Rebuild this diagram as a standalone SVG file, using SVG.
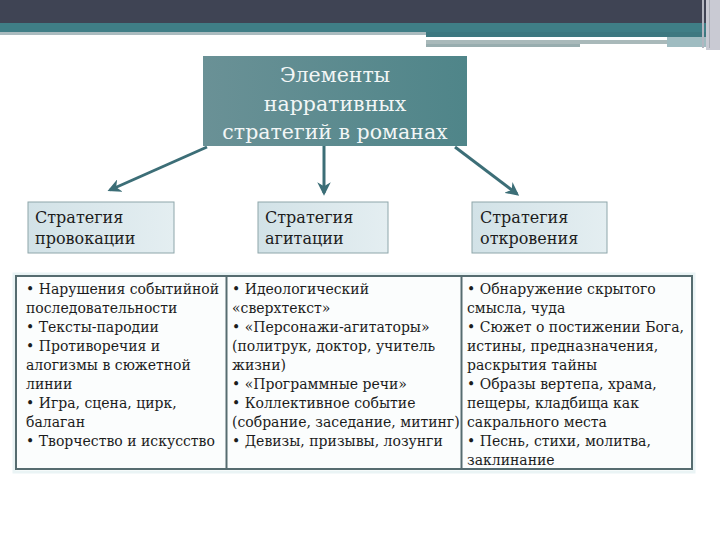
<svg xmlns="http://www.w3.org/2000/svg" width="720" height="540" viewBox="0 0 720 540">
  <defs>
    <linearGradient id="gMain" x1="0" y1="0" x2="1" y2="0">
      <stop offset="0" stop-color="#6a9196"/>
      <stop offset="1" stop-color="#4f8589"/>
    </linearGradient>
    <linearGradient id="gSub" x1="0" y1="0" x2="1" y2="0">
      <stop offset="0" stop-color="#d2e2e7"/>
      <stop offset="1" stop-color="#e4eef1"/>
    </linearGradient>
    <marker id="ah" viewBox="0 0 10 10" refX="8" refY="5" markerWidth="4.5" markerHeight="4.5" orient="auto" markerUnits="strokeWidth">
      <path d="M0,0 L10,5 L0,10 L3,5 Z" fill="#3c6e77"/>
    </marker>
    <style>
      .title { font-family: "DejaVu Serif", "Liberation Serif", serif; font-size: 20.5px; fill: #f2f6f6; text-anchor: middle; }
      .sub { font-family: "DejaVu Serif", "Liberation Serif", serif; font-size: 16px; fill: #1c1c1c; }
      .item { font-family: "DejaVu Serif", "Liberation Serif", serif; font-size: 14px; fill: #1c1c1c; }
      .conn { stroke: #3c6e77; stroke-width: 3; fill: none; marker-end: url(#ah); }
      .subbox { fill: url(#gSub); stroke: #8ea6aa; stroke-width: 1; }
    </style>
  </defs>

  <!-- header bands -->
  <g id="header">
    <rect x="0" y="0" width="720" height="24" fill="#3f4454"/>
    <rect x="0" y="23" width="706" height="9" fill="#3f7e86"/>
    <rect x="0" y="32" width="426" height="3" fill="#aabbbf"/>
    <rect x="426" y="32" width="280" height="5" fill="#3d7880"/>
    <rect x="426" y="40" width="241" height="4" fill="#a9b9ba"/>
    <rect x="426" y="44" width="154" height="3" fill="#98adaf"/>
    <rect x="667" y="37" width="39" height="10" fill="#9fbcc1"/>
    <rect x="706" y="0" width="14" height="50" fill="#c9cad3"/>
    <rect x="702" y="0" width="2" height="48" fill="#b3b6c0"/>
    <rect x="709" y="0" width="1" height="48" fill="#a9adb6"/>
  </g>

  <g id="connectors">
    <line class="conn" x1="207" y1="147" x2="110" y2="190"/>
    <line class="conn" x1="324" y1="146" x2="324" y2="193"/>
    <line class="conn" x1="455" y1="147" x2="517" y2="194"/>
  </g>

  <g id="main">
    <rect x="203" y="56" width="264" height="90" fill="url(#gMain)"/>
    <text class="title" x="335" y="82">Элементы</text>
    <text class="title" x="335" y="111">нарративных</text>
    <text class="title" x="335" y="139">стратегий в романах</text>
  </g>

  <g id="provocation">
    <rect class="subbox" x="28" y="202" width="146" height="51"/>
    <text class="sub" x="35" y="223">Стратегия</text>
    <text class="sub" x="35" y="244">провокации</text>
  </g>

  <g id="agitation">
    <rect class="subbox" x="258" y="202" width="130" height="51"/>
    <text class="sub" x="265" y="223">Стратегия</text>
    <text class="sub" x="265" y="244">агитации</text>
  </g>

  <g id="revelation">
    <rect class="subbox" x="472" y="202" width="135" height="51"/>
    <text class="sub" x="480" y="223">Стратегия</text>
    <text class="sub" x="480" y="244">откровения</text>
  </g>

  <g id="table">
    <rect x="14" y="274" width="680" height="198" fill="none" stroke="#eaf4f5" stroke-width="3"/>
    <rect x="16" y="276" width="676" height="193" fill="#fbfdfd" stroke="#566c70" stroke-width="2"/>
    <line x1="226.5" y1="276" x2="226.5" y2="469" stroke="#566c70" stroke-width="2"/>
    <line x1="461.5" y1="276" x2="461.5" y2="469" stroke="#566c70" stroke-width="2"/>
  </g>

  <g id="col-provocation">
    <text class="item" x="26" y="294">• Нарушения событийной</text>
    <text class="item" x="26" y="313">последовательности</text>
    <text class="item" x="26" y="332">• Тексты-пародии</text>
    <text class="item" x="26" y="351">• Противоречия и</text>
    <text class="item" x="26" y="370">алогизмы в сюжетной</text>
    <text class="item" x="26" y="389">линии</text>
    <text class="item" x="26" y="408">• Игра, сцена, цирк,</text>
    <text class="item" x="26" y="427">балаган</text>
    <text class="item" x="26" y="446">• Творчество и искусство</text>
  </g>

  <g id="col-agitation">
    <text class="item" x="232" y="294">• Идеологический</text>
    <text class="item" x="232" y="313">«сверхтекст»</text>
    <text class="item" x="232" y="332">• «Персонажи-агитаторы»</text>
    <text class="item" x="232" y="351">(политрук, доктор, учитель</text>
    <text class="item" x="232" y="370">жизни)</text>
    <text class="item" x="232" y="389">• «Программные речи»</text>
    <text class="item" x="232" y="408">• Коллективное событие</text>
    <text class="item" x="232" y="427">(собрание, заседание, митинг)</text>
    <text class="item" x="232" y="446">• Девизы, призывы, лозунги</text>
  </g>

  <g id="col-revelation">
    <text class="item" x="467" y="294">• Обнаружение скрытого</text>
    <text class="item" x="467" y="313">смысла, чуда</text>
    <text class="item" x="467" y="332">• Сюжет о постижении Бога,</text>
    <text class="item" x="467" y="351">истины, предназначения,</text>
    <text class="item" x="467" y="370">раскрытия тайны</text>
    <text class="item" x="467" y="389">• Образы вертепа, храма,</text>
    <text class="item" x="467" y="408">пещеры, кладбища как</text>
    <text class="item" x="467" y="427">сакрального места</text>
    <text class="item" x="467" y="446">• Песнь, стихи, молитва,</text>
    <text class="item" x="467" y="465">заклинание</text>
  </g>
</svg>
